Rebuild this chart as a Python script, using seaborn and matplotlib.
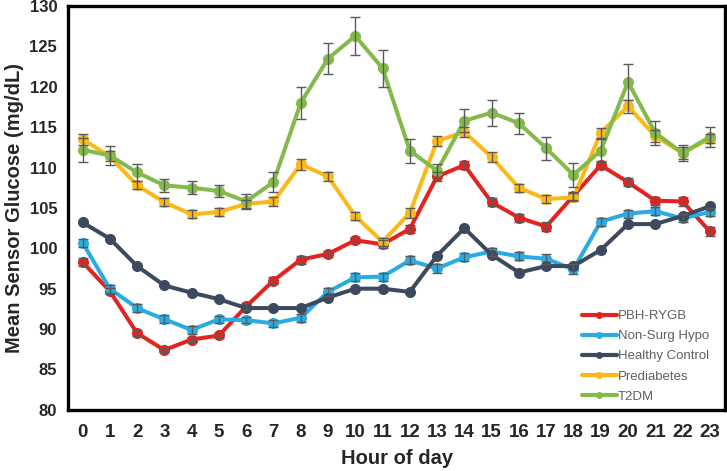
import numpy as np
import pandas as pd
import seaborn as sns
from matplotlib import pyplot as plt

hours = list(range(24))
groups = ["PBH-RYGB", "Non-Surg Hypo", "Healthy Control", "Prediabetes", "T2DM"]
colors = ["#E2231F", "#2AABE2", "#3D4A5E", "#FBB919", "#84BA4C"]

pbh_rygb = [98.3, 94.7, 89.5, 87.4, 88.7, 89.2, 92.8, 96.0, 98.6, 99.3, 101.0, 100.5,
            102.4, 108.9, 110.3, 105.7, 103.8, 102.7, 106.5, 110.3, 108.2, 105.9, 105.8, 102.1]
non_surg_hypo = [100.7, 95.0, 92.6, 91.2, 89.9, 91.2, 91.1, 90.7, 91.4, 94.6, 96.4, 96.5,
                 98.5, 97.5, 98.9, 99.6, 99.0, 98.7, 97.4, 103.3, 104.3, 104.6, 103.7, 104.5]
healthy_control = [103.2, 101.2, 97.8, 95.4, 94.5, 93.7, 92.6, 92.6, 92.6, 93.9, 95.0, 95.0,
                   94.6, 99.1, 102.5, 99.2, 97.0, 97.8, 97.8, 99.8, 103.0, 103.0, 104.0, 105.2]
prediabetes = [113.5, 111.4, 107.8, 105.7, 104.2, 104.5, 105.5, 105.8, 110.4, 108.9, 104.0, 100.8,
               104.4, 113.3, 114.4, 111.3, 107.5, 106.1, 106.3, 114.3, 117.6, 113.9, 111.8, 113.6]
t2dm = [112.2, 111.5, 109.4, 107.8, 107.5, 107.1, 105.8, 108.2, 118.0, 123.5, 126.3, 122.3,
        112.1, 109.6, 115.8, 116.8, 115.5, 112.4, 109.1, 112.1, 120.6, 114.3, 111.8, 113.8]

pbh_err = [0.5, 0.4, 0.4, 0.3, 0.3, 0.3, 0.4, 0.4, 0.5, 0.4, 0.4, 0.5,
           0.5, 0.6, 0.5, 0.5, 0.5, 0.5, 0.5, 0.5, 0.5, 0.5, 0.5, 0.6]
hypo_err = [0.5, 0.5, 0.5, 0.5, 0.5, 0.4, 0.4, 0.4, 0.5, 0.5, 0.5, 0.5,
            0.5, 0.5, 0.5, 0.5, 0.5, 0.6, 0.6, 0.5, 0.5, 0.5, 0.5, 0.5]
control_err = [0.0] * 24
pre_err = [0.7, 0.6, 0.5, 0.5, 0.5, 0.5, 0.5, 0.5, 0.7, 0.6, 0.5, 0.5,
           0.6, 0.6, 0.6, 0.6, 0.5, 0.5, 0.5, 0.6, 0.8, 0.7, 0.7, 0.6]
t2dm_err = [1.5, 1.2, 1.1, 0.8, 0.8, 0.8, 0.9, 1.2, 2.0, 1.9, 2.3, 2.3,
            1.5, 0.8, 1.4, 1.6, 1.3, 1.4, 1.5, 1.4, 2.2, 1.5, 1.0, 1.2]

values = [pbh_rygb, non_surg_hypo, healthy_control, prediabetes, t2dm]
errors = [pbh_err, hypo_err, control_err, pre_err, t2dm_err]

df = pd.DataFrame({
    "hour": hours * len(groups),
    "glucose": np.concatenate(values),
    "sem": np.concatenate(errors),
    "group": np.repeat(groups, len(hours)),
})

sns.set_style("white")
plt.rcParams["font.family"] = ["Liberation Sans", "DejaVu Sans"]

fig = plt.figure(figsize=(7.27, 4.71), dpi=100)
ax = fig.add_axes([0.094, 0.13, 0.903, 0.857])

sns.lineplot(data=df, x="hour", y="glucose", hue="group", hue_order=groups,
             palette=colors, marker="o", markersize=8, markeredgewidth=0,
             linewidth=2.9, errorbar=None, ax=ax)

for g in groups:
    sub = df[df.group == g]
    if sub["sem"].max() > 0:
        ax.errorbar(sub["hour"], sub["glucose"], yerr=sub["sem"], fmt="none",
                    ecolor="#5a5a5a", elinewidth=1.0, capsize=3.5, capthick=1.0, zorder=5)

ax.set_xlim(-0.52, 23.55)
ax.set_ylim(80, 130)
ax.set_xticks(hours)
ax.set_yticks(range(80, 131, 5))
ax.tick_params(axis="both", length=3, width=1, direction="out")
ax.tick_params(axis="x", labelsize=13.5, length=0, pad=10)
ax.tick_params(axis="y", labelsize=12, pad=5)
for lab in ax.get_xticklabels() + ax.get_yticklabels():
    lab.set_fontweight("bold")

for side in ["left", "bottom", "top", "right"]:
    ax.spines[side].set_color("black")
    ax.spines[side].set_linewidth(2.4)

ax.set_xlabel("Hour of day", fontsize=14.5, fontweight="bold", labelpad=6)
ax.set_ylabel("Mean Sensor Glucose (mg/dL)", fontsize=14.5, fontweight="bold", labelpad=4)

leg = ax.legend(loc="lower right", bbox_to_anchor=(0.994, -0.012), frameon=False,
                fontsize=9.5, handlelength=2.65, handletextpad=0.1, labelspacing=0.6,
                labelcolor="#606060")
for h in leg.legend_handles:
    h.set_markersize(5)
    h.set_linewidth(3)

fig.savefig("out.png", dpi=100)
